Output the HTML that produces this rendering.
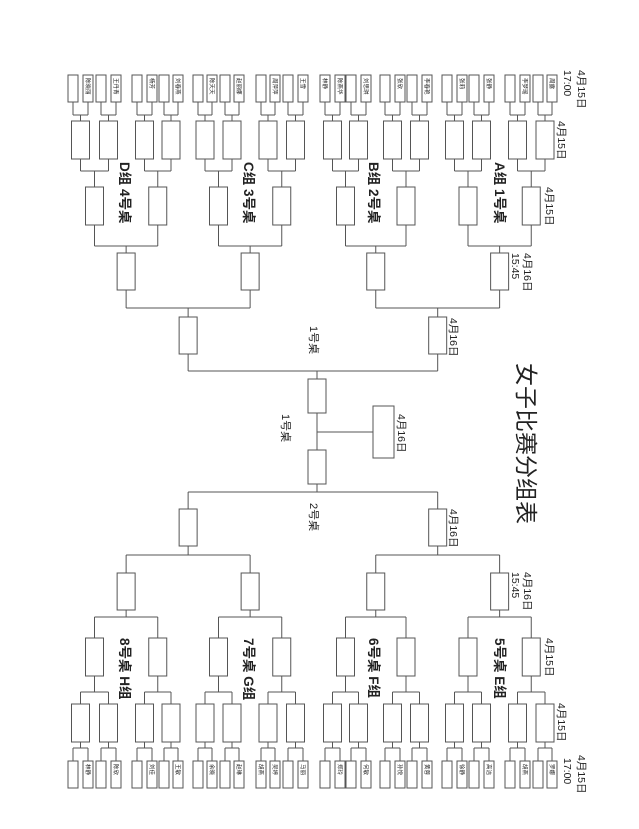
<!DOCTYPE html>
<html><head><meta charset="utf-8"><style>
html,body{margin:0;padding:0;background:#fff;}
svg{display:block;}
text{font-family:"Liberation Sans","Noto Sans CJK SC",sans-serif;fill:#222;}
</style></head><body>
<svg id="s" width="639" height="829" viewBox="0 0 639 829" xmlns="http://www.w3.org/2000/svg"></svg>
<script>
var s=document.getElementById('s'),out='';
function L(x1,y1,x2,y2){out+='<line x1="'+x1+'" y1="'+y1+'" x2="'+x2+'" y2="'+y2+'" stroke="#555" stroke-width="1"/>';}
function R(x,y,w,h){out+='<rect x="'+x+'" y="'+y+'" width="'+w+'" height="'+h+'" fill="#fff" stroke="#555" stroke-width="1"/>';}
function T(x,y,t,sz,extra){out+='<text transform="translate('+x+','+y+') rotate(90)" font-size="'+sz+'" '+(extra||'')+'>'+t+'</text>';}
function M(y){return 863-y;}
var groups=[[68,83,96,111,132,147,159,173],[193,207,220,234,256,270,283,298],[320,335,346,361,380,395,407,422],[442,457,469,484,505,520,533,547]];
var nm=['陈晓丽','王丹青','杨芳','刘春燕','陈天天','赵丽娜','周萍萍','王雪','陈燕华','刘思琪','张欣','李春艳','张莉','张静','李梦瑶','周露','林静','陈欣','刘佳','王敏','余晓','赵琳','吴婷','马丽','郑玲','何敏','孙悦','黄蓉','徐静','高洁','胡燕','罗娜'];
var k=0;
function half(flip){
 function Y(y){return flip?M(y):y;}
 function V(x,y1,y2){L(x,Y(y1),x,Y(y2));}
 function H(x1,x2,y){L(x1,Y(y),x2,Y(y));}
 function B(x,y1,y2,w){var a=Y(y1),b=Y(y2);R(x,Math.min(a,b),w,Math.abs(b-a));}
 var r3c=[];
 groups.forEach(function(g,gi){
  var r1c=[];
  for(var p=0;p<4;p++){
   var c1=g[2*p]+5,c2=g[2*p+1]+5;
   B(g[2*p],75,102,10);B(g[2*p+1],75,102,10);
   var ty=flip?M(102)+3:78;
   T(g[2*p+1]+3,ty,nm[k++%nm.length],5.5,'fill="#444"');
   if((gi==2&&p==0&&!flip)||(gi==1&&p==2&&flip))T(g[2*p]+3,ty,nm[(k+7)%nm.length],5.5,'fill="#444"');
   V(c1,102,115);V(c2,102,115);H(c1,c2,115);
   var m=(c1+c2)/2;V(m,115,121);B(m-9,121,159,18);r1c.push(m);
   V(m,159,171);
  }
  var r2c=[];
  for(var q=0;q<2;q++){
   var a=r1c[2*q],b=r1c[2*q+1];H(a,b,171);var m=(a+b)/2;V(m,171,187);B(m-9,187,225,18);V(m,225,246);r2c.push(m);
  }
  H(r2c[0],r2c[1],246);var m=(r2c[0]+r2c[1])/2;V(m,246,253);B(m-9,253,290,18);V(m,290,308);r3c.push(m);
 });
 var r4=[];
 for(var q=0;q<2;q++){var a=r3c[2*q],b=r3c[2*q+1];H(a,b,308);var m=(a+b)/2;V(m,308,317);B(m-9,317,354,18);V(m,354,371);r4.push(m);}
 H(r4[0],r4[1],371);V(317,371,379);
}
half(false);half(true);
R(308,379,18,34);R(308,450,18,34);L(317,413,317,450);L(317,432,373,432);R(373,406,21,52);
var b='font-weight="bold"',d='fill="#111"';
T(578,70,'4月15日',10.5,d);T(564,70,'17:00',10.5,d);
T(558,121,'4月15日',10.5,d);T(546,187,'4月15日',10.5,d);
T(524,253,'4月16日',10.5,d);T(512,253,'15:45',10.5,d);
T(450,318,'4月16日',10.5,d);
T(578,755,'4月15日',10.5,d);T(564,758,'17:00',10.5,d);
T(558,703,'4月15日',10.5,d);T(546,638,'4月15日',10.5,d);
T(524,572,'4月16日',10.5,d);T(512,572,'15:45',10.5,d);
T(450,509,'4月16日',10.5,d);
T(398,414,'4月16日',10.5,d);
T(518,363,'女子比赛分组表',23,d);
T(310,326,'1号桌',11,d);T(282,414,'1号桌',11,d);T(310,503,'2号桌',11,d);
T(495,162,'A组 1号桌',13.5,b);T(369,162,'B组 2号桌',13.5,b);T(244,162,'C组 3号桌',13.5,b);T(120,162,'D组 4号桌',13.5,b);
T(495,638,'5号桌 E组',13.5,b);T(369,638,'6号桌 F组',13.5,b);T(244,638,'7号桌 G组',13.5,b);T(120,638,'8号桌 H组',13.5,b);
s.innerHTML=out;
</script>
</body></html>
